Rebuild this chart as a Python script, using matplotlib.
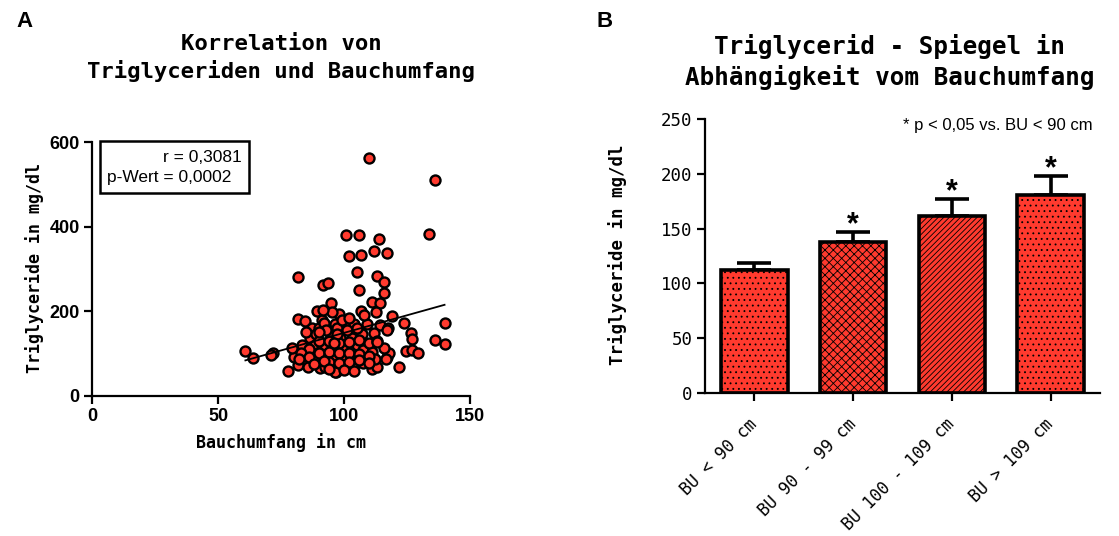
import matplotlib
matplotlib.use("Agg")
import matplotlib.pyplot as plt
import numpy as np
from matplotlib.patches import Rectangle

# Panel A: waist circumference (cm) vs triglycerides (mg/dl)
bauchumfang = [
    110.0, 136.1, 133.8, 100.7, 106.0, 114.0, 101.9, 106.9, 111.8, 117.0,
    105.1, 81.5, 113.0, 115.7, 91.8, 93.8, 105.9, 115.7, 110.9, 114.1,
    94.8, 89.2, 106.8, 112.8, 98.1, 118.9, 81.5, 84.5, 139.9, 123.9,
    126.5, 127.1, 136.0, 139.9, 60.8, 63.7, 71.9, 77.8, 96.6, 121.8,
    110.9, 113.0, 124.4, 127.1, 129.2, 117.0, 118.0,
    87.4, 90.1, 91.2, 86.5, 83.2, 88.5, 80.0, 84.5, 87.4, 91.2,
    81.6, 85.8, 90.6, 70.9, 79.3,
    95.2, 91.8, 92.1, 96.5, 100.4, 103.8, 109.1, 114.3, 117.6, 107.1,
    103.1, 98.5, 94.5, 111.7, 92.5, 96.5, 100.4, 105.1, 107.7, 111.0,
    115.7, 92.5, 95.8, 100.4, 104.4, 108.4, 112.4, 116.5, 92.5, 96.5,
    99.8, 103.7, 107.7,
    85, 89, 93, 97, 101, 105, 86, 90, 94, 98,
    102, 106, 110, 113, 88, 90, 94, 98, 102, 106,
    110, 83, 86, 94, 98, 102, 106, 110, 88, 92,
    100, 104, 94, 82, 97, 99, 102, 108, 96, 90,
    117, 113,
]
triglyceride = [
    563, 510, 383, 380, 380, 372, 331, 334, 343, 337,
    294, 282, 283, 269, 263, 266, 250, 244, 222, 220,
    219, 201, 201, 198, 193, 189, 181, 176, 171, 171,
    148, 135, 132, 122, 105, 89, 100, 59, 56, 67,
    62, 69, 105, 108, 102, 91, 102,
    160, 160, 179, 136, 120, 120, 92, 80, 100, 112,
    73, 69, 65, 97, 112,
    199, 203, 172, 170, 170, 170, 170, 167, 160, 146,
    137, 137, 148, 148, 120, 108, 112, 120, 108, 104,
    112, 92, 96, 88, 92, 85, 88, 86, 69, 57,
    69, 69, 77,
    150, 145, 155, 160, 155, 160, 110, 130, 130, 125,
    128, 132, 125, 130, 88, 100, 104, 100, 102, 98,
    95, 100, 92, 80, 78, 80, 84, 78, 75, 82,
    60, 58, 62, 88, 145, 180, 185, 190, 125, 150,
    155, 128,
]

# Panel B: mean triglycerides per waist group with SEM
gruppen = ["BU < 90 cm", "BU 90 - 99 cm", "BU 100 - 109 cm", "BU > 109 cm"]
mittelwerte = [112, 138, 162, 181]
sem = [7, 9, 15, 17]
signifikant = [False, True, True, True]
muster = ["...", "xxxx", "//////", "..."]

rot = "#ff3a2e"
mono = "DejaVu Sans Mono"
arial = "Liberation Sans"

plt.rcParams["hatch.linewidth"] = 0.6

fig = plt.figure(figsize=(11.19, 5.36), dpi=100)

# ---- A: scatter with regression line ----
axA = fig.add_axes([0.0825, 0.2618, 0.3375, 0.4727])
x = np.array(bauchumfang)
y = np.array(triglyceride)
axA.scatter(x, y, s=52, c=rot, edgecolors="black", linewidths=1.7, zorder=2)
slope, intercept = np.polyfit(x, y, 1)
xs = np.array([x.min(), x.max()])
axA.plot(xs, slope * xs + intercept, color="black", lw=1.3, zorder=3)

axA.set_xlim(0, 150)
axA.set_ylim(0, 600)
axA.set_xticks([0, 50, 100, 150])
axA.set_yticks([0, 200, 400, 600])
for side in ("top", "right"):
    axA.spines[side].set_visible(False)
for side in ("left", "bottom"):
    axA.spines[side].set_linewidth(1.6)
axA.tick_params(width=1.6, length=6, labelsize=13, pad=3)
for lab in axA.get_xticklabels() + axA.get_yticklabels():
    lab.set_fontfamily(arial)
    lab.set_fontweight("bold")

fig.text(0.251, 0.892, "Korrelation von\nTriglyceriden und Bauchumfang",
         ha="center", va="center", family=mono, fontweight="bold",
         fontsize=16, linespacing=1.3)
fig.text(0.031, 0.50, "Triglyceride in mg/dl", rotation=90, ha="center",
         va="center", family=mono, fontweight="bold", fontsize=12)
fig.text(0.251, 0.1735, "Bauchumfang in cm", ha="center", va="center",
         family=mono, fontweight="bold", fontsize=12)

# stats box
fig.patches.append(Rectangle((0.0894, 0.640), 0.1332, 0.097,
                             transform=fig.transFigure, fill=False,
                             edgecolor="black", linewidth=1.8))
fig.text(0.2163, 0.707, "r = 0,3081", ha="right", va="center",
         family=arial, fontsize=12.5)
fig.text(0.0956, 0.668, "p-Wert = 0,0002", ha="left", va="center",
         family=arial, fontsize=12.5)

# ---- B: bar chart with error bars ----
axB = fig.add_axes([0.630, 0.2674, 0.353, 0.51])
pos = np.arange(len(gruppen))
balken = axB.bar(pos, mittelwerte, width=0.675, color=rot,
                 edgecolor="black", linewidth=2.6, zorder=2)
for b, h in zip(balken, muster):
    b.set_hatch(h)
axB.errorbar(pos, mittelwerte, yerr=[np.zeros(len(sem)), sem], fmt="none",
             ecolor="black", elinewidth=2.6, capsize=12, capthick=2.6,
             zorder=1)
for i, (m, s, sig) in enumerate(zip(mittelwerte, sem, signifikant)):
    if sig:
        axB.annotate("*", (i, m + s), xytext=(0, -6),
                     textcoords="offset points", ha="center", va="bottom",
                     fontsize=22, fontweight="bold", family=arial)

axB.set_xlim(-0.5, 3.5)
axB.set_ylim(0, 250)
axB.set_yticks([0, 50, 100, 150, 200, 250])
axB.set_xticks(pos)
axB.set_xticklabels(gruppen, rotation=45, ha="right", va="center",
                    rotation_mode="anchor", family=mono, fontsize=12)
for side in ("top", "right"):
    axB.spines[side].set_visible(False)
for side in ("left", "bottom"):
    axB.spines[side].set_linewidth(1.6)
axB.tick_params(axis="y", width=1.6, length=6, labelsize=12.5, pad=3)
axB.tick_params(axis="x", width=1.6, length=6, pad=15)
for lab in axB.get_yticklabels():
    lab.set_fontfamily(mono)

fig.text(0.795, 0.884, "Triglycerid - Spiegel in\nAbhängigkeit vom Bauchumfang",
         ha="center", va="center", family=mono, fontweight="bold",
         fontsize=17.5, linespacing=1.3)
fig.text(0.552, 0.524, "Triglyceride in mg/dl", rotation=90, ha="center",
         va="center", family=mono, fontweight="bold", fontsize=12.5)
fig.text(0.976, 0.765, "* p < 0,05 vs. BU < 90 cm", ha="right", va="center",
         family=arial, fontsize=12)

fig.text(0.015, 0.959, "A", family=arial, fontweight="bold", fontsize=16,
         ha="left", va="center")
fig.text(0.533, 0.959, "B", family=arial, fontweight="bold", fontsize=16,
         ha="left", va="center")

fig.savefig("out.png", dpi=100)
